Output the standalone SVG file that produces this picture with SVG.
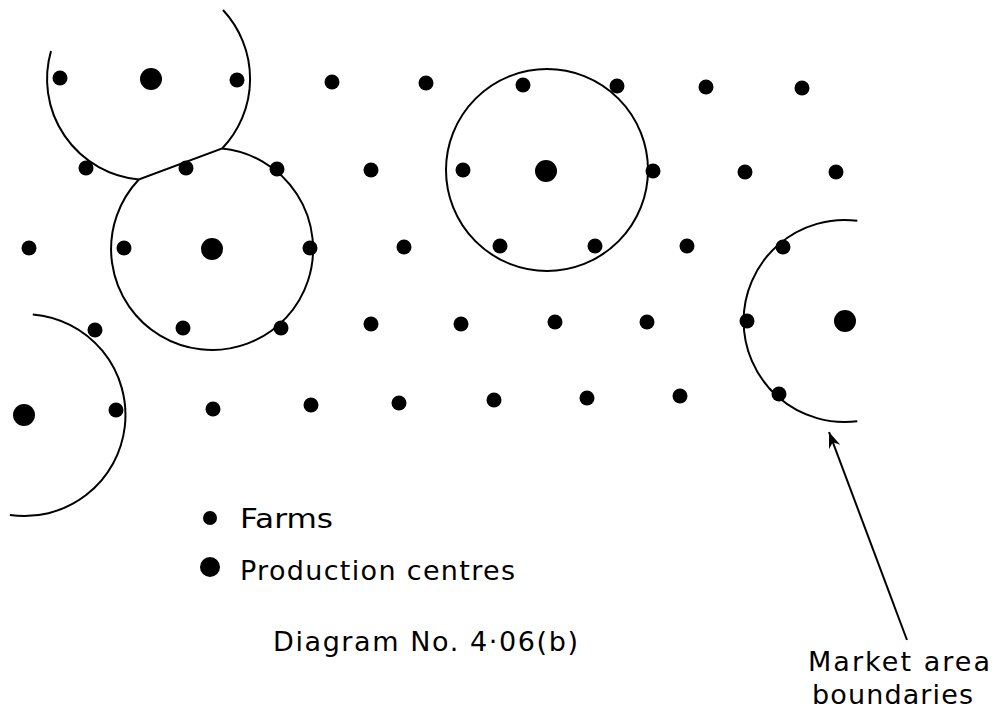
<svg xmlns="http://www.w3.org/2000/svg" width="1001" height="716" viewBox="0 0 1001 716">
<style>
.b{fill:none;stroke:#000;stroke-width:2}
.f{fill:#000}
.t{font-family:"DejaVu Sans","Liberation Sans",sans-serif;font-size:27px;fill:#000}
</style>
<defs>
<marker id="ah" markerUnits="userSpaceOnUse" markerWidth="18" markerHeight="14" refX="16" refY="6" orient="auto">
<path d="M0,0 L16,6 L0,12 L5,6 z" fill="#000"/>
</marker>
</defs>
<rect width="1001" height="716" fill="#fff"/>
<g id="boundaries">
<path id="area1" class="b" d="M51,51 A101,101 0 0 0 138.8,179.5 L222.2,148.5 A101,101 0 0 0 223,10"/>
<path id="area2" class="b" d="M138.8,179.5 A101,101 0 1 0 222.2,148.5"/>
<path id="area3" class="b" d="M32.8,314.4 A101,101 0 1 1 9.9,515"/>
<circle id="area4" class="b" cx="547" cy="170" r="101"/>
<path id="area5" class="b" d="M857.3,220.8 A101,101 0 1 0 857.3,421.2"/>
</g>
<g id="centres" class="f">
<circle cx="151" cy="79" r="11"/>
<circle cx="546" cy="171" r="11"/>
<circle cx="212" cy="249" r="11"/>
<circle cx="845" cy="321" r="11"/>
<circle cx="24" cy="415" r="11"/>
</g>
<g id="farms" class="f">
<circle cx="60" cy="78" r="7.5"/><circle cx="237" cy="80" r="7.5"/><circle cx="332" cy="82" r="7.5"/><circle cx="426" cy="83" r="7.5"/><circle cx="523" cy="85" r="7.5"/><circle cx="617" cy="86" r="7.5"/><circle cx="706" cy="87" r="7.5"/><circle cx="802" cy="88" r="7.5"/>
<circle cx="86" cy="168" r="7.5"/><circle cx="186" cy="168" r="7.5"/><circle cx="277" cy="169" r="7.5"/><circle cx="371" cy="170" r="7.5"/><circle cx="463" cy="170" r="7.5"/><circle cx="653" cy="171" r="7.5"/><circle cx="745" cy="172" r="7.5"/><circle cx="836" cy="172" r="7.5"/>
<circle cx="29" cy="248" r="7.5"/><circle cx="124" cy="248" r="7.5"/><circle cx="310" cy="248" r="7.5"/><circle cx="404" cy="247" r="7.5"/><circle cx="500" cy="246" r="7.5"/><circle cx="595" cy="246" r="7.5"/><circle cx="687" cy="246" r="7.5"/><circle cx="783" cy="247" r="7.5"/>
<circle cx="95" cy="330" r="7.5"/><circle cx="183" cy="328" r="7.5"/><circle cx="281" cy="328" r="7.5"/><circle cx="371" cy="324" r="7.5"/><circle cx="461" cy="324" r="7.5"/><circle cx="555" cy="322" r="7.5"/><circle cx="647" cy="322" r="7.5"/><circle cx="747" cy="321" r="7.5"/>
<circle cx="116" cy="410" r="7.5"/><circle cx="213" cy="409" r="7.5"/><circle cx="311" cy="405" r="7.5"/><circle cx="399" cy="403" r="7.5"/><circle cx="494" cy="400" r="7.5"/><circle cx="587" cy="398" r="7.5"/><circle cx="680" cy="396" r="7.5"/><circle cx="779" cy="394" r="7.5"/>
</g>
<g id="legend">
<circle class="f" cx="210" cy="518" r="7"/>
<text class="t" x="240" y="528" textLength="93" lengthAdjust="spacingAndGlyphs">Farms</text>
<circle class="f" cx="210" cy="567" r="10"/>
<text class="t" x="240" y="580" textLength="275" lengthAdjust="spacing">Production  centres</text>
</g>
<g id="caption">
<text class="t" x="273" y="651" textLength="305" lengthAdjust="spacing">Diagram No. 4·06(b)</text>
</g>
<g id="connectors">
<path class="b" d="M907,640 L829,432" marker-end="url(#ah)"/>
</g>
<g id="label">
<text class="t" x="808" y="671" textLength="182" lengthAdjust="spacing">Market area</text>
<text class="t" x="812" y="704" textLength="161" lengthAdjust="spacing">boundaries</text>
</g>
</svg>
